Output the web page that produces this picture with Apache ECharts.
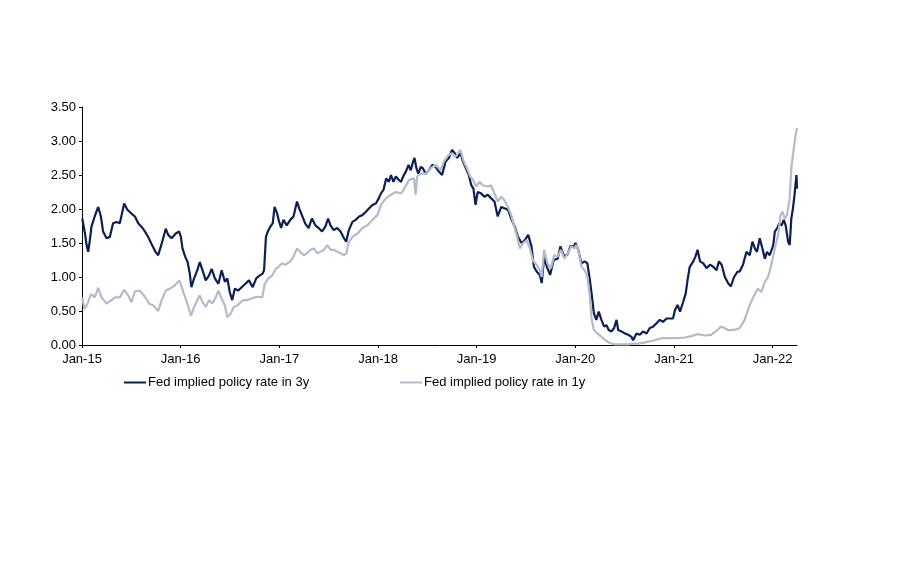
<!DOCTYPE html>
<html>
<head>
<meta charset="utf-8">
<title>Fed implied policy rate</title>
<script src="https://cdn.jsdelivr.net/npm/echarts@6/dist/echarts.min.js"></script>
<style>
  html, body { margin: 0; padding: 0; background: #fff; }
  #chart { width: 917px; height: 564px; }
</style>
</head>
<body>
<div id="chart"></div>
<script>
// tick labels on the date axis (one per January)
const xTickDates = ['2015-01-01', '2016-01-01', '2017-01-01', '2018-01-01', '2019-01-01', '2020-01-01', '2021-01-01', '2022-01-01'];
const xTickLabels = ['Jan-15', 'Jan-16', 'Jan-17', 'Jan-18', 'Jan-19', 'Jan-20', 'Jan-21', 'Jan-22'];
const xStart = '2015-01-01';
const xEnd = '2022-04-01';

// Fed implied policy rate in 3y
const rate3yDates = [
  '2015-01-02','2015-01-12','2015-01-18','2015-01-24','2015-01-30','2015-02-05','2015-02-17','2015-03-02','2015-03-12','2015-03-20',
  '2015-04-02','2015-04-14','2015-04-26','2015-05-09','2015-05-21','2015-06-06','2015-06-18','2015-07-01','2015-07-16','2015-07-28',
  '2015-08-09','2015-08-22','2015-09-03','2015-09-15','2015-09-30','2015-10-10','2015-10-23','2015-11-07','2015-11-16','2015-11-29',
  '2015-12-14','2015-12-27','2016-01-02','2016-01-08','2016-01-18','2016-01-27','2016-02-04','2016-02-10','2016-02-20','2016-03-03',
  '2016-03-12','2016-03-22','2016-04-03','2016-04-15','2016-04-25','2016-05-07','2016-05-20','2016-06-01','2016-06-13','2016-06-22',
  '2016-07-01','2016-07-10','2016-07-20','2016-08-01','2016-08-14','2016-08-28','2016-09-10','2016-09-24','2016-10-07','2016-10-19',
  '2016-10-31','2016-11-05','2016-11-12','2016-11-19','2016-11-28','2016-12-07','2016-12-14','2016-12-23','2016-12-29','2017-01-07',
  '2017-01-16','2017-01-28','2017-02-10','2017-02-22','2017-03-07','2017-03-15','2017-03-25','2017-04-06','2017-04-19','2017-05-01',
  '2017-05-14','2017-05-26','2017-06-08','2017-06-20','2017-06-30','2017-07-09','2017-07-21','2017-08-03','2017-08-15','2017-08-28',
  '2017-09-05','2017-09-15','2017-09-28','2017-10-10','2017-10-23','2017-11-04','2017-11-17','2017-11-29','2017-12-11','2017-12-24',
  '2018-01-04','2018-01-12','2018-01-21','2018-01-31','2018-02-10','2018-02-18','2018-02-27','2018-03-08','2018-03-18','2018-03-27',
  '2018-04-04','2018-04-14','2018-04-24','2018-05-02','2018-05-11','2018-05-16','2018-05-23','2018-05-30','2018-06-08','2018-06-16',
  '2018-06-26','2018-07-08','2018-07-21','2018-08-02','2018-08-14','2018-08-26','2018-09-08','2018-09-20','2018-10-02','2018-10-12',
  '2018-10-21','2018-11-02','2018-11-11','2018-11-20','2018-12-03','2018-12-12','2018-12-20','2018-12-28','2019-01-05','2019-01-17',
  '2019-01-30','2019-02-11','2019-02-23','2019-03-08','2019-03-20','2019-04-02','2019-04-14','2019-04-27','2019-05-09','2019-05-22',
  '2019-06-03','2019-06-16','2019-06-28','2019-07-11','2019-07-23','2019-08-01','2019-08-11','2019-08-23','2019-08-30','2019-09-08',
  '2019-09-18','2019-09-30','2019-10-13','2019-10-28','2019-11-07','2019-11-19','2019-12-02','2019-12-14','2019-12-27','2020-01-02',
  '2020-01-12','2020-01-24','2020-02-05','2020-02-15','2020-02-24','2020-03-03','2020-03-10','2020-03-19','2020-03-28','2020-04-07',
  '2020-04-17','2020-04-26','2020-05-04','2020-05-14','2020-05-24','2020-06-02','2020-06-08','2020-06-20','2020-07-03','2020-07-15',
  '2020-07-27','2020-08-02','2020-08-15','2020-08-27','2020-09-08','2020-09-21','2020-10-03','2020-10-15','2020-10-28','2020-11-09',
  '2020-11-21','2020-12-04','2020-12-16','2020-12-28','2021-01-04','2021-01-14','2021-01-23','2021-02-04','2021-02-13','2021-02-20',
  '2021-02-28','2021-03-13','2021-03-21','2021-03-29','2021-04-07','2021-04-19','2021-05-01','2021-05-14','2021-05-26','2021-06-07',
  '2021-06-16','2021-06-26','2021-07-08','2021-07-20','2021-07-30','2021-08-11','2021-08-24','2021-09-01','2021-09-13','2021-09-26',
  '2021-10-08','2021-10-18','2021-10-27','2021-11-04','2021-11-14','2021-11-24','2021-12-03','2021-12-11','2021-12-21','2022-01-03',
  '2022-01-09','2022-01-18','2022-01-25','2022-02-03','2022-02-11','2022-02-18','2022-02-27','2022-03-05','2022-03-11','2022-03-17',
  '2022-03-23','2022-03-30','2022-04-01'
];
const rate3yValues = [
  1.86,1.64,1.47,1.37,1.54,1.74,1.89,2.03,1.89,1.67,
  1.57,1.59,1.79,1.81,1.79,2.08,1.99,1.94,1.89,1.79,
  1.74,1.67,1.59,1.49,1.37,1.32,1.49,1.71,1.62,1.57,
  1.64,1.67,1.59,1.42,1.30,1.22,1.05,0.85,0.98,1.10,
  1.22,1.10,0.95,1.02,1.12,0.98,0.90,1.10,0.93,0.98,
  0.78,0.66,0.83,0.80,0.85,0.90,0.95,0.85,0.98,1.02,
  1.05,1.10,1.59,1.67,1.74,1.79,2.03,1.94,1.84,1.72,
  1.84,1.76,1.84,1.89,2.11,2.01,1.91,1.79,1.72,1.86,
  1.76,1.72,1.67,1.74,1.86,1.76,1.69,1.72,1.67,1.57,
  1.52,1.69,1.81,1.84,1.89,1.91,1.96,2.01,2.06,2.08,
  2.16,2.23,2.28,2.45,2.40,2.50,2.40,2.48,2.43,2.40,
  2.48,2.55,2.65,2.57,2.70,2.75,2.60,2.52,2.62,2.60,
  2.52,2.57,2.65,2.62,2.55,2.50,2.70,2.75,2.87,2.82,
  2.75,2.82,2.70,2.62,2.50,2.35,2.30,2.06,2.25,2.23,
  2.18,2.21,2.16,2.11,1.89,2.03,2.01,1.99,1.86,1.74,
  1.59,1.50,1.54,1.62,1.45,1.15,1.08,1.03,0.91,1.30,
  1.15,1.03,1.25,1.27,1.45,1.32,1.32,1.45,1.45,1.50,
  1.40,1.20,1.23,1.20,0.96,0.71,0.47,0.37,0.49,0.37,
  0.27,0.29,0.22,0.20,0.25,0.37,0.22,0.20,0.17,0.15,
  0.12,0.07,0.17,0.15,0.20,0.17,0.25,0.27,0.32,0.37,
  0.34,0.39,0.39,0.39,0.51,0.59,0.49,0.64,0.76,0.96,
  1.15,1.23,1.30,1.40,1.23,1.20,1.13,1.18,1.15,1.10,
  1.23,1.18,1.00,0.91,0.86,1.00,1.08,1.08,1.18,1.37,
  1.32,1.52,1.42,1.37,1.57,1.42,1.27,1.37,1.32,1.47,
  1.67,1.72,1.79,1.76,1.84,1.76,1.52,1.47,1.86,2.01,
  2.21,2.50,2.30
];

// Fed implied policy rate in 1y
const rate1yDates = [
  '2015-01-02','2015-01-10','2015-01-22','2015-02-03','2015-02-17','2015-03-02','2015-03-14','2015-04-02','2015-04-20','2015-05-03',
  '2015-05-21','2015-06-06','2015-06-21','2015-07-03','2015-07-16','2015-08-03','2015-08-22','2015-09-06','2015-09-22','2015-10-10',
  '2015-10-23','2015-11-07','2015-11-23','2015-12-12','2015-12-27','2016-01-05','2016-01-18','2016-01-30','2016-02-08','2016-02-20',
  '2016-03-03','2016-03-12','2016-03-22','2016-04-03','2016-04-15','2016-04-27','2016-05-10','2016-05-20','2016-06-01','2016-06-13',
  '2016-06-22','2016-07-04','2016-07-16','2016-07-29','2016-08-10','2016-08-22','2016-09-04','2016-09-16','2016-10-02','2016-10-17',
  '2016-10-29','2016-11-08','2016-11-21','2016-12-05','2016-12-18','2016-12-29','2017-01-10','2017-01-23','2017-02-10','2017-02-22',
  '2017-03-07','2017-03-19','2017-04-01','2017-04-13','2017-04-26','2017-05-08','2017-05-21','2017-06-02','2017-06-15','2017-06-27',
  '2017-07-10','2017-07-22','2017-08-04','2017-08-16','2017-08-28','2017-09-06','2017-09-13','2017-09-28','2017-10-17','2017-11-04',
  '2017-11-23','2017-12-11','2017-12-30','2018-01-12','2018-01-31','2018-02-18','2018-03-08','2018-03-27','2018-04-08','2018-04-26',
  '2018-05-14','2018-05-20','2018-05-26','2018-06-08','2018-06-26','2018-07-15','2018-08-02','2018-08-20','2018-09-02','2018-09-18',
  '2018-10-02','2018-10-15','2018-11-02','2018-11-14','2018-11-26','2018-12-08','2018-12-18','2018-12-30','2019-01-11','2019-01-24',
  '2019-02-11','2019-02-23','2019-03-08','2019-03-20','2019-04-02','2019-04-14','2019-04-27','2019-05-09','2019-05-22','2019-05-31',
  '2019-06-10','2019-06-22','2019-07-05','2019-07-17','2019-07-30','2019-08-11','2019-08-23','2019-08-30','2019-09-08','2019-09-20',
  '2019-10-03','2019-10-15','2019-10-28','2019-11-09','2019-11-22','2019-12-04','2019-12-17','2019-12-29','2020-01-04','2020-01-12',
  '2020-01-24','2020-02-05','2020-02-15','2020-02-24','2020-03-02','2020-03-10','2020-03-23','2020-04-07','2020-04-22','2020-05-08',
  '2020-05-27','2020-06-20','2020-07-15','2020-08-02','2020-08-21','2020-09-08','2020-09-27','2020-10-21','2020-11-15','2020-12-09',
  '2020-12-23','2021-01-16','2021-02-10','2021-03-05','2021-03-30','2021-04-24','2021-05-18','2021-06-10','2021-06-24','2021-07-07',
  '2021-07-19','2021-07-31','2021-08-19','2021-09-01','2021-09-19','2021-10-08','2021-10-22','2021-11-07','2021-11-20','2021-12-03',
  '2021-12-15','2021-12-27','2022-01-09','2022-01-21','2022-01-30','2022-02-06','2022-02-15','2022-02-23','2022-03-05','2022-03-11',
  '2022-03-20','2022-03-27','2022-04-01'
];
const rate1yValues = [
  0.70,0.53,0.61,0.75,0.70,0.84,0.70,0.61,0.66,0.70,
  0.70,0.81,0.73,0.63,0.79,0.80,0.71,0.61,0.58,0.50,
  0.66,0.80,0.83,0.88,0.95,0.85,0.70,0.56,0.43,0.56,
  0.66,0.73,0.63,0.56,0.66,0.61,0.70,0.80,0.68,0.58,
  0.41,0.46,0.56,0.58,0.63,0.66,0.66,0.68,0.70,0.71,
  0.70,0.90,0.98,1.02,1.12,1.15,1.20,1.18,1.23,1.30,
  1.42,1.37,1.32,1.35,1.40,1.42,1.35,1.37,1.40,1.47,
  1.40,1.40,1.37,1.35,1.32,1.35,1.50,1.59,1.64,1.72,
  1.76,1.84,1.91,2.06,2.16,2.21,2.25,2.23,2.30,2.43,
  2.45,2.21,2.48,2.52,2.52,2.60,2.65,2.57,2.70,2.79,
  2.82,2.77,2.87,2.70,2.60,2.48,2.43,2.33,2.40,2.35,
  2.33,2.35,2.23,2.11,2.18,2.13,2.03,1.91,1.72,1.59,
  1.42,1.50,1.54,1.42,1.23,1.18,1.10,1.00,1.40,1.20,
  1.13,1.32,1.30,1.40,1.27,1.35,1.45,1.42,1.47,1.40,
  1.15,1.10,1.00,0.71,0.37,0.22,0.17,0.12,0.07,0.03,
  0.01,0.01,0.01,0.02,0.02,0.03,0.05,0.07,0.10,0.10,
  0.10,0.10,0.11,0.13,0.16,0.14,0.15,0.22,0.27,0.25,
  0.22,0.22,0.23,0.25,0.37,0.59,0.71,0.83,0.78,0.93,
  1.00,1.18,1.42,1.62,1.91,1.96,1.86,1.91,2.16,2.60,
  2.89,3.09,3.19
];

const seriesNames = ['Fed implied policy rate in 3y', 'Fed implied policy rate in 1y'];
const seriesColors = ['#0b1f52', '#b3bacb'];

// dates become timestamps on a plain value axis
const ts = d => new Date(d + 'T00:00:00').getTime();
const toPairs = (dates, values) => dates.map((d, i) => [ts(d), values[i]]);
const tickValues = xTickDates.map(ts);

const textFont = { fontFamily: 'Liberation Sans, Arial, sans-serif', fontSize: 13, color: '#000' };

const chart = echarts.init(document.getElementById('chart'), null, { renderer: 'canvas' });
chart.setOption({
  animation: false,
  backgroundColor: '#fff',
  grid: { left: 82, right: 120, top: 107, bottom: 219 },
  legend: [
    {
      data: [seriesNames[0]], left: 119, top: 371, icon: 'rect',
      itemWidth: 22, itemHeight: 2, itemGap: 0,
      textStyle: Object.assign({ padding: [0, 0, 0, -3] }, textFont)
    },
    {
      data: [seriesNames[1]], left: 395, top: 371, icon: 'rect',
      itemWidth: 22, itemHeight: 2, itemGap: 0,
      textStyle: Object.assign({ padding: [0, 0, 0, -3] }, textFont)
    }
  ],
  xAxis: {
    type: 'value',
    min: ts(xStart),
    max: ts(xEnd),
    splitLine: { show: false },
    axisLine: { show: true, onZero: false, lineStyle: { color: '#000', width: 1 } },
    axisTick: { show: true, length: 3, customValues: tickValues, lineStyle: { color: '#000' } },
    axisLabel: Object.assign({
      margin: 8,
      customValues: tickValues,
      formatter: (value) => {
        const i = tickValues.indexOf(value);
        return i >= 0 ? xTickLabels[i] : '';
      }
    }, textFont)
  },
  yAxis: {
    type: 'value',
    min: 0,
    max: 3.5,
    interval: 0.5,
    splitLine: { show: false },
    axisLine: { show: true, lineStyle: { color: '#000', width: 1 } },
    axisTick: { show: true, length: 3, lineStyle: { color: '#000' } },
    axisLabel: Object.assign({ margin: 6, formatter: v => v.toFixed(2) }, textFont)
  },
  series: [
    {
      name: seriesNames[0], type: 'line', showSymbol: false, symbol: 'none',
      data: toPairs(rate3yDates, rate3yValues),
      lineStyle: { color: seriesColors[0], width: 2.2 },
      itemStyle: { color: seriesColors[0] }
    },
    {
      name: seriesNames[1], type: 'line', showSymbol: false, symbol: 'none',
      data: toPairs(rate1yDates, rate1yValues),
      lineStyle: { color: seriesColors[1], width: 2.2 },
      itemStyle: { color: seriesColors[1] }
    }
  ]
});
</script>
</body>
</html>
